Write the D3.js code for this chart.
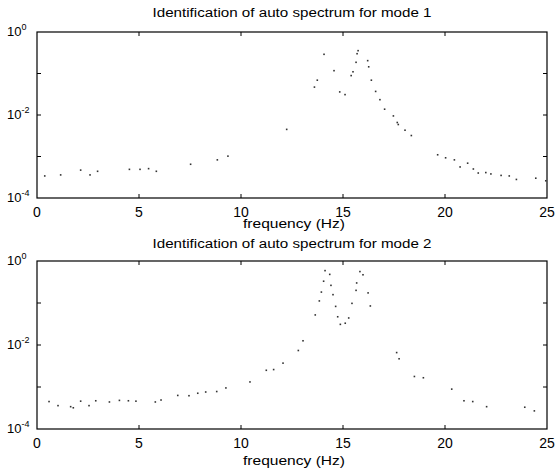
<!DOCTYPE html>
<html><head><meta charset="utf-8">
<script src="https://cdn.jsdelivr.net/npm/d3@7/dist/d3.min.js"></script>
<style>body{margin:0;background:#fff}svg{display:block}text{font-family:"Liberation Sans",Arial,sans-serif;fill:#000}</style>
</head><body><svg id="c" width="558" height="476"></svg>
<script>
const titles = ["Identification of auto spectrum for mode 1", "Identification of auto spectrum for mode 2"];
const xLabel = "frequency (Hz)";
const xTicks = [0, 5, 10, 15, 20, 25];
const yTickExps = [0, -2, -4];
const yMinorExps = [0, -1, -2, -3, -4];

const freq1 = [0.38,1.16,2.14,2.6,2.97,4.53,5.05,5.47,5.85,7.53,8.84,9.36,12.24,13.6,13.74,14.07,14.56,14.84,15.1,15.4,15.49,15.64,15.69,15.74,16.21,16.26,16.39,16.6,16.81,17.04,17.47,17.66,17.71,18.04,18.35,19.64,20.03,20.46,20.74,21.11,21.39,21.63,22.0,22.25,22.75,23.15,23.5,24.45,24.94];
const spec1 = [3.4e-4,3.6e-4,4.7e-4,3.6e-4,4.4e-4,4.9e-4,4.9e-4,5.1e-4,4.4e-4,6.5e-4,8.3e-4,1.02e-3,4.5e-3,0.047,0.069,0.29,0.117,0.036,0.031,0.089,0.11,0.186,0.30,0.355,0.204,0.145,0.069,0.037,0.0234,0.0138,0.0095,0.0066,0.0059,0.0043,0.0032,0.0011,9.3e-4,8.3e-4,5.6e-4,6.9e-4,5.0e-4,4.0e-4,4.1e-4,3.8e-4,3.5e-4,3.4e-4,2.8e-4,3.0e-4,2.6e-4];

const freq2 = [0.59,1.03,1.65,1.78,2.14,2.55,2.88,3.55,4.04,4.48,4.85,5.8,6.08,6.9,7.45,7.88,8.27,8.81,9.26,10.44,11.24,11.6,12.06,12.81,13.04,13.64,13.84,13.94,14.05,14.12,14.35,14.41,14.51,14.64,14.74,14.87,15.11,15.28,15.44,15.64,15.67,15.83,15.98,16.23,16.34,17.63,17.75,18.5,18.94,20.33,20.93,21.36,22.04,23.91,24.38];
const spec2 = [4.5e-4,3.6e-4,3.4e-4,3.2e-4,4.6e-4,3.6e-4,4.7e-4,4.4e-4,4.8e-4,4.7e-4,4.6e-4,4.4e-4,4.9e-4,6.3e-4,6.2e-4,7.1e-4,7.6e-4,7.8e-4,9.5e-4,1.32e-3,2.5e-3,2.6e-3,3.7e-3,7.4e-3,0.0126,0.052,0.112,0.182,0.33,0.59,0.48,0.263,0.158,0.083,0.047,0.031,0.033,0.044,0.098,0.20,0.30,0.56,0.47,0.174,0.085,0.0066,0.0047,1.78e-3,1.66e-3,8.9e-4,4.7e-4,4.5e-4,3.4e-4,3.3e-4,2.7e-4];

const svg = d3.select("#c");
const x = d3.scaleLinear().domain([0, 25]).range([37, 547]);

function panel(top, bottom, title, fr, sp, titleY, xlabY) {
  const y = d3.scaleLog().domain([1e-4, 1]).range([bottom, top]);
  const g = svg.append("g");
  // ticks
  const tk = g.append("g").attr("stroke", "#000").attr("stroke-width", 1);
  xTicks.slice(1, -1).forEach(t => {
    tk.append("line").attr("x1", x(t)).attr("x2", x(t)).attr("y1", bottom).attr("y2", bottom - 4);
    tk.append("line").attr("x1", x(t)).attr("x2", x(t)).attr("y1", top).attr("y2", top + 4);
  });
  yMinorExps.slice(1, -1).forEach(e => {
    const v = Math.pow(10, e);
    tk.append("line").attr("x1", x(0)).attr("x2", x(0) + 4).attr("y1", y(v)).attr("y2", y(v));
    tk.append("line").attr("x1", x(25)).attr("x2", x(25) - 4).attr("y1", y(v)).attr("y2", y(v));
  });
  g.append("rect").attr("x", x(0)).attr("y", top).attr("width", x(25) - x(0)).attr("height", bottom - top)
    .attr("fill", "none").attr("stroke", "#000").attr("stroke-width", 1.2);
  // x tick labels
  xTicks.forEach(t => {
    g.append("text").attr("x", x(t)).attr("y", bottom + 19).attr("text-anchor", "middle")
      .attr("font-size", 14).text(t);
  });
  // y tick labels
  yTickExps.forEach(e => {
    const yy = y(Math.pow(10, e));
    const tx = g.append("text").attr("x", 7).attr("y", yy + 4).attr("font-size", 13);
    tx.append("tspan").text("10");
    tx.append("tspan").attr("dy", -6).attr("font-size", 9).text(e === 0 ? "0" : "-" + Math.abs(e));
  });
  g.append("text").attr("x", 292).attr("y", titleY).attr("text-anchor", "middle")
    .attr("font-size", 12.5).attr("textLength", 279).attr("lengthAdjust", "spacingAndGlyphs").text(title);
  g.append("text").attr("x", 294).attr("y", xlabY).attr("text-anchor", "middle")
    .attr("font-size", 13).attr("textLength", 102).attr("lengthAdjust", "spacingAndGlyphs").text(xLabel);
  // data as sparse dots (scanned dotted trace)
  g.append("g").selectAll("rect").data(fr.map((f, i) => [f, sp[i]])).join("rect")
    .attr("x", d => x(d[0]) - 0.8).attr("y", d => y(d[1]) - 0.8)
    .attr("width", 1.6).attr("height", 1.6).attr("fill", "#333");
}

panel(32, 198, titles[0], freq1, spec1, 17, 228);
panel(261, 429, titles[1], freq2, spec2, 248, 465);
</script></body></html>
